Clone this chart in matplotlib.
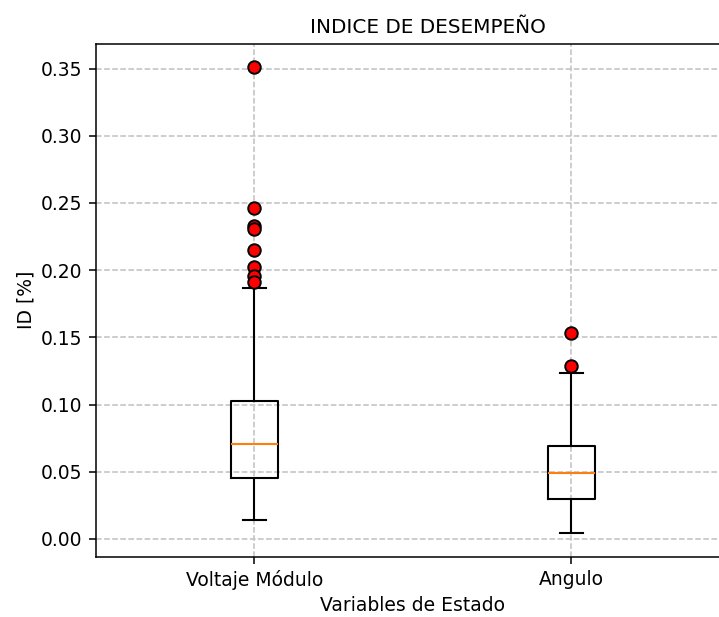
import numpy as np
import matplotlib
matplotlib.use("Agg")
import matplotlib.pyplot as plt

# Values
labels = ["Voltaje Módulo", "Angulo"]
q1 = [0.0453, 0.0295]
med = [0.0706, 0.0490]
q3 = [0.1025, 0.0691]
whislo = [0.0141, 0.0042]
whishi = [0.1866, 0.1236]
fliers_volt = [0.351, 0.246, 0.233, 0.231, 0.215, 0.202, 0.196, 0.191]
fliers_ang = [0.153, 0.129]
fliers = [fliers_volt, fliers_ang]

stats = []
for i in range(len(labels)):
    stats.append({
        "label": labels[i],
        "q1": q1[i],
        "med": med[i],
        "q3": q3[i],
        "whislo": whislo[i],
        "whishi": whishi[i],
        "fliers": np.array(fliers[i]),
    })

plt.rcParams["font.size"] = 13.5
plt.rcParams["xtick.major.size"] = 4.9
plt.rcParams["ytick.major.size"] = 4.9
plt.rcParams["xtick.major.width"] = 1.1
plt.rcParams["ytick.major.width"] = 1.1
plt.rcParams["xtick.major.pad"] = 4.9
plt.rcParams["ytick.major.pad"] = 4.9
plt.rcParams["axes.linewidth"] = 1.1

fig = plt.figure(figsize=(7.19, 6.17), dpi=100)
# right spine falls outside the picture in the reference
ax = fig.add_axes([96 / 719, 1 - 556.5 / 617, 634 / 719, 512.5 / 617])

lw = 1.5
flierprops = dict(marker="o", markerfacecolor="red", markeredgecolor="black",
                  markersize=9, markeredgewidth=1.4)
ax.bxp(stats, widths=0.15, flierprops=flierprops,
       boxprops=dict(linewidth=lw), whiskerprops=dict(linewidth=lw),
       capprops=dict(linewidth=lw), medianprops=dict(linewidth=lw, color="C1"))

ax.grid(True, linestyle="--", color="#c0c0c0", linewidth=1.1)
ax.set_axisbelow(True)
ax.set_title("INDICE DE DESEMPEÑO", fontsize=14.4, pad=8, x=0.524)
ax.set_ylabel("ID [%]")
ax.set_xlabel("Variables de Estado")
ax.set_yticks([0.0, 0.05, 0.10, 0.15, 0.20, 0.25, 0.30, 0.35])
ax.set_yticklabels(["0.00", "0.05", "0.10", "0.15", "0.20", "0.25", "0.30", "0.35"])
ax.set_xlim(0.5, 2.5)

fig.savefig("out.png", dpi=100)
